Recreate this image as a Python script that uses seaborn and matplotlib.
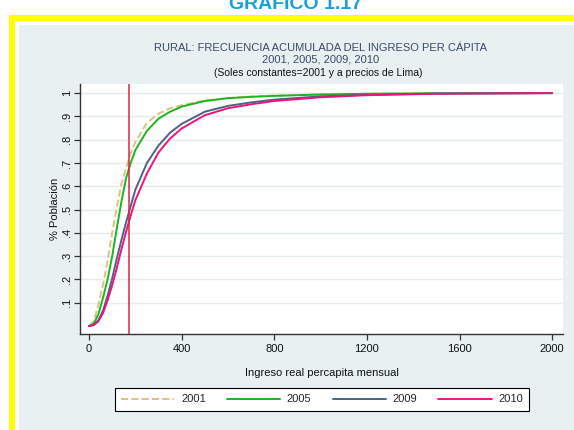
import matplotlib
matplotlib.use("Agg")
import matplotlib.pyplot as plt
from matplotlib.patches import Rectangle
import pandas as pd
import seaborn as sns

# ingreso real per capita mensual (soles)
ingreso = [0, 20, 40, 60, 80, 100, 120, 140, 160, 180, 200, 250, 300, 350,
           400, 500, 600, 700, 800, 1000, 1200, 1500, 2000]

# frecuencia acumulada por año
acum_2001 = [0, 0.02, 0.09, 0.175, 0.28, 0.40, 0.51, 0.61, 0.68, 0.74, 0.79,
             0.872, 0.912, 0.935, 0.948, 0.968, 0.979, 0.985, 0.989, 0.994,
             0.997, 0.999, 1.0]
acum_2005 = [0, 0.01, 0.05, 0.12, 0.20, 0.30, 0.42, 0.535, 0.635, 0.70, 0.755,
             0.838, 0.89, 0.92, 0.942, 0.966, 0.978, 0.984, 0.988, 0.994,
             0.997, 0.999, 1.0]
acum_2009 = [0, 0.005, 0.025, 0.065, 0.13, 0.205, 0.29, 0.37, 0.445, 0.515,
             0.585, 0.70, 0.775, 0.83, 0.868, 0.92, 0.945, 0.96, 0.972, 0.986,
             0.993, 0.998, 1.0]
acum_2010 = [0, 0.004, 0.02, 0.055, 0.11, 0.175, 0.25, 0.33, 0.405, 0.475,
             0.54, 0.655, 0.745, 0.805, 0.848, 0.905, 0.935, 0.952, 0.966,
             0.982, 0.991, 0.997, 1.0]

linea_pobreza = 173

xticks = [0, 400, 800, 1200, 1600, 2000]
yticks = [0.1, 0.2, 0.3, 0.4, 0.5, 0.6, 0.7, 0.8, 0.9, 1.0]
ytick_labels = [".1", ".2", ".3", ".4", ".5", ".6", ".7", ".8", ".9", "1"]

sns.set_theme(style="white")
plt.rcParams["font.family"] = ["Liberation Sans", "DejaVu Sans"]

fig = plt.figure(figsize=(5.74, 4.30), dpi=100)
fig.patch.set_facecolor("white")

# marco amarillo y panel gris claro (detras de los ejes)
fig.patches.append(Rectangle((19 / 574, -0.01), 1.0, 0.9419 + 0.01,
                             transform=fig.transFigure, facecolor="#e8f0f2",
                             edgecolor="none", zorder=-3))
fig.patches.append(Rectangle((12 / 574, -0.05), 1.2, 0.9581 + 0.05,
                             transform=fig.transFigure, facecolor="none",
                             edgecolor="#ffff00", linewidth=4.3, zorder=-2))

fig.text(296 / 574, 1 - 9 / 430, "GRAFICO 1.17", ha="center", va="baseline",
         fontsize=14, fontweight="bold", color="#1aa0d4")

ax = fig.add_axes([80 / 574, 1 - 334 / 430, 483 / 574, 250 / 430])
ax.set_facecolor("white")

series = [
    ("2001", acum_2001, "#dcc283", "--"),
    ("2005", acum_2005, "#1eb41e", "-"),
    ("2009", acum_2009, "#4b6480", "-"),
    ("2010", acum_2010, "#f0137e", "-"),
]
for anio, vals, color, ls in series:
    df = pd.DataFrame({"ingreso": ingreso, "acum": vals})
    kw = {"dashes": (5, 3)} if ls == "--" else {}
    sns.lineplot(data=df, x="ingreso", y="acum", ax=ax, color=color,
                 linewidth=1.4, linestyle=ls, label=anio, zorder=3, **kw)

ax.axvline(linea_pobreza, color="#d8254a", linewidth=1.1, zorder=4)

ax.set_xlim(-39, 2047)
ax.set_ylim(-0.034, 1.039)
ax.set_xticks(xticks)
ax.set_yticks(yticks, ytick_labels, rotation=90, va="center")
ax.grid(axis="y", color="#e4ecef", linewidth=1.0)
ax.grid(axis="x", visible=False)

for s in ["top", "right"]:
    ax.spines[s].set_visible(False)
for s in ["left", "bottom"]:
    ax.spines[s].set_color("#333333")
    ax.spines[s].set_linewidth(1.0)

ax.tick_params(axis="both", direction="out", length=4, width=0.9,
               color="#333333", labelsize=8, labelcolor="#111111",
               left=True, bottom=True)
ax.tick_params(axis="x", pad=3)
ax.tick_params(axis="y", pad=1.5)

ax.set_xlabel("Ingreso real percapita mensual", fontsize=8, color="#111111")
ax.set_ylabel("% Población", fontsize=8, color="#111111")
ax.xaxis.set_label_coords(0.5, -0.136)
ax.xaxis.label.set_va("top")
ax.yaxis.set_label_coords(-0.042, 0.5)

fig.text(321 / 574, 1 - 51 / 430,
         "RURAL: FRECUENCIA ACUMULADA DEL INGRESO PER CÁPITA",
         ha="center", va="baseline", fontsize=8, color="#3a4a66")
fig.text(321 / 574, 1 - 62 / 430, "2001, 2005, 2009, 2010",
         ha="center", va="baseline", fontsize=8, color="#3a4a66")
fig.text(318 / 574, 1 - 76 / 430,
         "(Soles constantes=2001 y a precios de Lima)",
         ha="center", va="baseline", fontsize=7.5, color="#111111")

ax.legend(loc="center", bbox_to_anchor=(322 / 574, 1 - 399.5 / 430),
          bbox_transform=fig.transFigure, ncol=4, fontsize=8, frameon=True,
          fancybox=False, edgecolor="black", facecolor="white", framealpha=1,
          handlelength=4.8, handletextpad=0.6, columnspacing=1.9,
          borderpad=0.55, borderaxespad=0)
ax.get_legend().get_frame().set_linewidth(0.8)

fig.savefig("out.png", dpi=100)
plt.close(fig)
